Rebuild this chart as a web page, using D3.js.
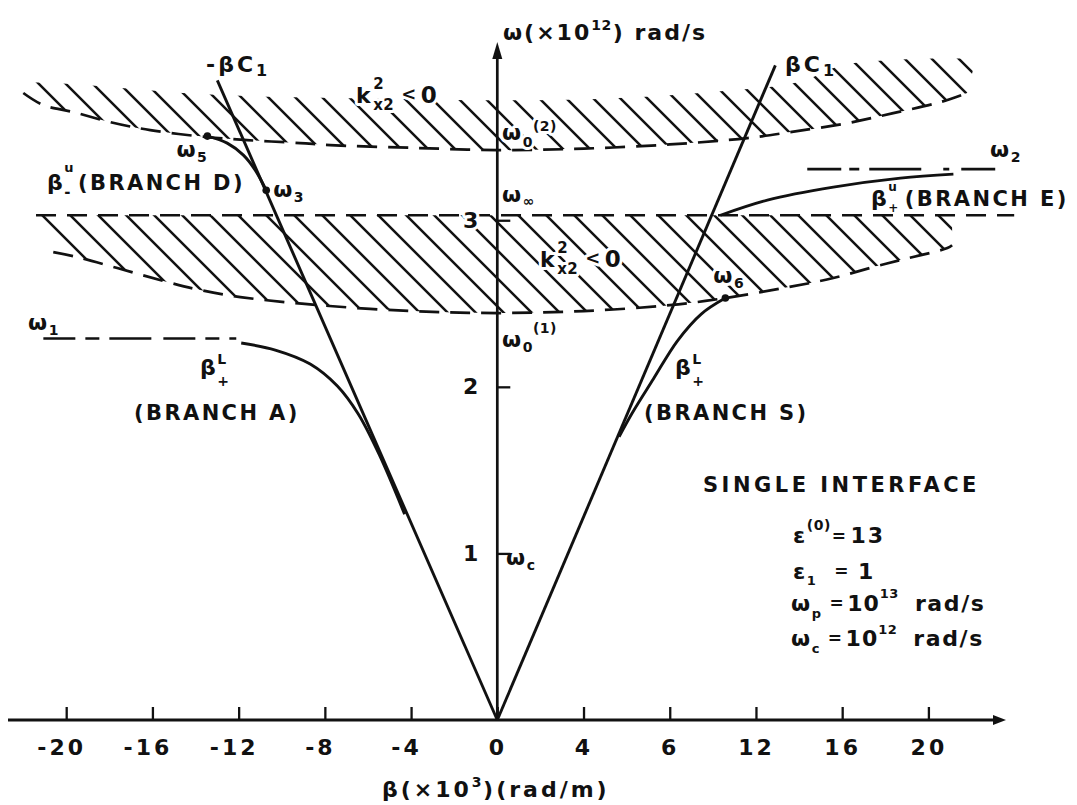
<!DOCTYPE html>
<html>
<head>
<meta charset="utf-8">
<script src="https://cdn.jsdelivr.net/npm/d3@7"></script>
<style>
  html, body { margin: 0; padding: 0; background: #fff; }
  svg { display: block; font-family: "DejaVu Sans", sans-serif; font-weight: bold; }
  .halo { stroke: #fff; stroke-width: 6px; stroke-linejoin: round; paint-order: stroke; }
</style>
</head>
<body>
<svg id="chart" width="1077" height="805"></svg>
<script>
// Units: beta in 10^3 rad/m, omega in 10^12 rad/s

// axis ticks
const xTickValues = [-20, -16, -12, -8, -4, 0, 4, 8, 12, 16, 20];
const xTickLabels = ["-20", "-16", "-12", "-8", "-4", "0", "4", "6", "12", "16", "20"];
const yTickValues = [1, 2, 3];
const yTickLabels = ["1", "2", "3"];

// light lines  omega = ±beta*c1
const lightLeftBeta = [0, -12.99];
const lightLeftOmega = [0, 3.84];
const lightRightBeta = [0, 12.9];
const lightRightOmega = [0, 3.93];

// band edge omega_0^(2) (k_x2^2 < 0 above it)
const upperBoundBeta  = [-21.99, -21.06, -19.67, -17.95, -16.10, -13.45, -11.60, -9.14, -7.75, -4, 0, 4, 8, 11.60, 13.59, 16.24, 18.37, 20.55, 21.80];
const upperBoundOmega = [3.764, 3.691, 3.649, 3.589, 3.541, 3.499, 3.481, 3.463, 3.451, 3.435, 3.421, 3.43, 3.455, 3.493, 3.529, 3.583, 3.643, 3.709, 3.764];
// upper limit of the hatching drawn above omega_0^(2)
const upperHatchTopBeta  = [-22.4, -20, -17, -14, -10, -5, 0, 5, 10, 14, 16, 18, 20, 22.2];
const upperHatchTopOmega = [3.83, 3.82, 3.79, 3.76, 3.74, 3.73, 3.72, 3.73, 3.77, 3.83, 3.93, 3.96, 3.97, 3.97];

// band edge omega_0^(1) (k_x2^2 < 0 between it and omega_inf)
const lowerBoundBeta  = [-20.60, -19.49, -17.63, -15.31, -13.78, -11.92, -8.35, -4, 0, 4, 8, 10.58, 13.27, 15.59, 17.44, 18.70, 20.88, 21.1];
const lowerBoundOmega = [2.809, 2.779, 2.713, 2.629, 2.581, 2.539, 2.491, 2.455, 2.443, 2.455, 2.49, 2.533, 2.593, 2.653, 2.719, 2.761, 2.833, 2.85];
const lowerHatchTipBeta = -21.4;

// omega_inf level and the asymptotes omega_1, omega_2
const omegaInf = 3.03;
const omegaInfBeta = [-21.4, 23.98];
const omega1 = 2.29;
const omega1Beta = [-21.06, -12.11];
const omega2 = 3.307;
const omega2Beta = [14.38, 23.1];

// dispersion branches
const branchABeta  = [-11.88, -10.30, -8.68, -7.42, -6.45, -5.47, -4.3];
const branchAOmega = [2.263, 2.221, 2.137, 2.005, 1.837, 1.591, 1.235];
const branchSBeta  = [10.58, 9.46, 8.35, 7.24, 6.26, 5.65];
const branchSOmega = [2.533, 2.437, 2.275, 2.047, 1.843, 1.700];
const branchDBeta  = [-13.45, -12.53, -11.78, -11.23, -10.72];
const branchDOmega = [3.505, 3.463, 3.391, 3.301, 3.18];
const branchEBeta  = [10.35, 12.53, 15.59, 18.70, 21.16];
const branchEOmega = [3.03, 3.121, 3.199, 3.253, 3.277];

// marked points omega_5, omega_3, omega_6
const pointBeta  = [-13.45, -10.72, 10.58];
const pointOmega = [3.505, 3.18, 2.533];

const INK = "#111";
const svg = d3.select("#chart");

const x = d3.scaleLinear().domain([-22.7, 23.6]).range([8, 1006]);
const y = d3.scaleLinear().domain([0, 4.07]).range([720, 42]);

const zip = (a, b) => a.map((v, i) => [v, b[i]]);
const smooth = d3.line().x(d => x(d[0])).y(d => y(d[1])).curve(d3.curveCatmullRom.alpha(0.5));
const straight = d3.line().x(d => x(d[0])).y(d => y(d[1]));

const defs = svg.append("defs");

// ---- hatched regions where k_x2^2 < 0 ----
const upperEdge = zip(upperBoundBeta, upperBoundOmega);
const upperTop = zip(upperHatchTopBeta, upperHatchTopOmega);
defs.append("clipPath").attr("id", "clipUpper").append("path")
  .attr("d", smooth(upperEdge) + "L" + smooth(upperTop.slice().reverse()).slice(1) + "Z");

const lowerEdge = zip(lowerBoundBeta, lowerBoundOmega);
defs.append("clipPath").attr("id", "clipLower").append("path")
  .attr("d", smooth(lowerEdge) +
    `L${x(lowerBoundBeta[lowerBoundBeta.length - 1])},${y(omegaInf)}` +
    `L${x(lowerHatchTipBeta)},${y(omegaInf)}Z`);

function hatch(clipId, y0, y1, step, phase) {
  const g = svg.append("g").attr("clip-path", `url(#${clipId})`);
  const h = y1 - y0;
  const starts = d3.range(-200 + phase, 1100, step);
  g.selectAll("line").data(starts).join("line")
    .attr("x1", d => d).attr("y1", y0)
    .attr("x2", d => d + h).attr("y2", y1)
    .attr("stroke", INK).attr("stroke-width", 2.5);
}
hatch("clipUpper", 40, 170, 27, 6);
hatch("clipLower", 200, 330, 28, 3);

// dashed band edges
[upperEdge, lowerEdge].forEach(edge => {
  svg.append("path").attr("d", smooth(edge))
    .attr("fill", "none").attr("stroke", INK).attr("stroke-width", 2.7).attr("stroke-dasharray", "20,11");
});

// omega_inf line
svg.append("path").attr("d", straight(omegaInfBeta.map(b => [b, omegaInf])))
  .attr("fill", "none").attr("stroke", INK).attr("stroke-width", 2.7).attr("stroke-dasharray", "20,11");

// asymptotes omega_1 and omega_2
svg.append("path").attr("d", straight(omega1Beta.map(b => [b, omega1])))
  .attr("fill", "none").attr("stroke", INK).attr("stroke-width", 2.7).attr("stroke-dasharray", "32,10,14,10,42,12");
svg.append("path").attr("d", straight(omega2Beta.map(b => [b, omega2])))
  .attr("fill", "none").attr("stroke", INK).attr("stroke-width", 2.7).attr("stroke-dasharray", "34,8,10,10,52,22,6,12,40");

// ---- axes ----
const xAxis = d3.axisBottom(x).tickValues(xTickValues)
  .tickFormat((d, i) => xTickLabels[i]).tickSize(-13).tickPadding(19).tickSizeOuter(0);
const gx = svg.append("g").attr("transform", `translate(0,${y(0)})`).call(xAxis)
  .attr("font-family", "DejaVu Sans, sans-serif").attr("font-size", 22);
gx.select(".domain").remove();
gx.selectAll(".tick line").attr("stroke", INK).attr("stroke-width", 2.3);
gx.selectAll(".tick text").attr("fill", INK).attr("letter-spacing", 3)
  .attr("dx", (d, i) => xTickLabels[i].startsWith("-") ? -5 : 0);

const yAxis = d3.axisLeft(y).tickValues(yTickValues)
  .tickFormat((d, i) => yTickLabels[i]).tickSize(-13).tickPadding(19).tickSizeOuter(0);
const gy = svg.append("g").attr("transform", `translate(${x(0)},0)`).call(yAxis)
  .attr("font-family", "DejaVu Sans, sans-serif").attr("font-size", 22);
gy.select(".domain").remove();
gy.selectAll(".tick line").attr("stroke", INK).attr("stroke-width", 2.3);
gy.selectAll(".tick text").attr("fill", INK).attr("class", "halo");

// axis lines with arrowheads
const xEnd = x.domain()[1], yEnd = y.domain()[1];
svg.append("line").attr("x1", x(x.domain()[0])).attr("x2", x(xEnd) - 6)
  .attr("y1", y(0)).attr("y2", y(0)).attr("stroke", INK).attr("stroke-width", 3);
svg.append("path")
  .attr("d", `M${x(xEnd)},${y(0)}l-13,-5l0,10z`).attr("fill", INK);
svg.append("line").attr("x1", x(0)).attr("x2", x(0))
  .attr("y1", y(0)).attr("y2", y(yEnd) + 8).attr("stroke", INK).attr("stroke-width", 2.7);
svg.append("path")
  .attr("d", `M${x(0)},${y(yEnd)}l-5,17l10,0z`).attr("fill", INK);

// ---- light lines ----
[[lightLeftBeta, lightLeftOmega], [lightRightBeta, lightRightOmega]].forEach(([b, o]) => {
  svg.append("path").attr("d", straight(zip(b, o)))
    .attr("fill", "none").attr("stroke", INK).attr("stroke-width", 2.9);
});

// ---- branches ----
[[branchABeta, branchAOmega], [branchSBeta, branchSOmega],
 [branchDBeta, branchDOmega], [branchEBeta, branchEOmega]].forEach(([b, o]) => {
  svg.append("path").attr("d", smooth(zip(b, o)))
    .attr("fill", "none").attr("stroke", INK).attr("stroke-width", 2.9);
});

svg.selectAll("circle.pt").data(zip(pointBeta, pointOmega)).join("circle")
  .attr("class", "pt").attr("cx", d => x(d[0])).attr("cy", d => y(d[1]))
  .attr("r", 3.8).attr("fill", INK);

// ---- text ----
// One <text> per label. Pieces flow left to right; `off` shifts the baseline
// (sub/superscripts), `stack` puts a piece at the start of the previous one.
function label(x0, y0, pieces, opts = {}) {
  const t = svg.append("text").attr("fill", INK);
  if (opts.halo) t.attr("class", "halo");
  let cx = x0, prevStart = x0;
  pieces.forEach(p => {
    const { s, off = 0, size = 22, ls = 1.5, stack = false, gap = 0 } = p;
    const px = stack ? prevStart : cx + gap;
    const ts = t.append("tspan").attr("x", px).attr("y", y0 + off)
      .attr("font-size", size).attr("letter-spacing", ls).text(s);
    const w = ts.node().getComputedTextLength();
    prevStart = px;
    cx = Math.max(cx, px + w);
  });
  return t;
}
const sub = (s, off = 6, size = 14, more = {}) => Object.assign({ s, off, size, ls: 0.5 }, more);

// axis titles
label(503, 40, [{ s: "ω(×10", ls: 2 }, sub("12", -10), { s: ") rad/s", ls: 2, gap: 1 }]);
label(382, 797, [{ s: "β(×10", ls: 3 }, sub("3", -10), { s: ")(rad/m)", ls: 3, gap: 1 }]);

// light-line labels
label(206, 72, [{ s: "-βC", ls: 3 }, sub("1", 4, 16)]);
label(785, 72, [{ s: "βC", ls: 3 }, sub("1", 4, 16)]);

// k_x2^2 < 0 labels
function kLabel(px, py) {
  label(px, py, [{ s: "k" }, sub("2", -14, 15, { gap: 1 }), sub("x2", 7, 15, { stack: true }),
                 { s: "<", off: -3, size: 18, gap: 7 }, { s: "0", size: 23, gap: 3 }], { halo: true });
}
kLabel(356, 103);
kLabel(540, 267);

// band edges on the omega axis
label(502, 140, [{ s: "ω" }, sub("0", 7), sub("(2)", -9)], { halo: true });
label(502, 202, [{ s: "ω" }, sub("∞", 4)], { halo: true });
label(502, 347, [{ s: "ω" }, sub("0", 5), sub("(1)", -14)], { halo: true });
label(506, 565, [{ s: "ω" }, sub("c", 5)]);

// marked frequencies
const px5 = x(pointBeta[0]), py5 = y(pointOmega[0]);
label(px5 - 31, py5 + 21, [{ s: "ω" }, sub("5", 5)], { halo: true });
const px3 = x(pointBeta[1]), py3 = y(pointOmega[1]);
label(px3 + 7, py3 + 7, [{ s: "ω" }, sub("3", 5)]);
const px6 = x(pointBeta[2]), py6 = y(pointOmega[2]);
label(px6 - 12, py6 - 15, [{ s: "ω" }, sub("6", 5)], { halo: true });
label(28, 330, [{ s: "ω" }, sub("1", 5)]);
label(990, 157, [{ s: "ω" }, sub("2", 5)]);

// branch labels
label(47, 190, [{ s: "β" }, sub("-", 7, 15), sub("u", -18, 13, { stack: true }),
                { s: "(BRANCH D)", size: 21, ls: 2.4, gap: 4 }]);
label(200, 375, [{ s: "β" }, sub("+", 11, 14), sub("L", -11, 14, { stack: true })]);
label(134, 420, [{ s: "(BRANCH A)", size: 21, ls: 2.4 }]);
label(675, 375, [{ s: "β" }, sub("+", 11, 14), sub("L", -11, 14, { stack: true })]);
label(644, 420, [{ s: "(BRANCH S)", size: 21, ls: 2.4 }]);
label(871, 206, [{ s: "β" }, sub("+", 6, 12), sub("u", -15, 12, { stack: true }),
                 { s: "(BRANCH E)", size: 21, ls: 2.4, gap: 6 }]);

// parameter block
label(703, 492, [{ s: "SINGLE INTERFACE", size: 21, ls: 3.5 }]);
label(793, 543, [{ s: "ε" }, sub("(0)", -13), { s: "=", size: 17, off: -1, gap: 1 }, { s: "13", gap: 3, ls: 2 }]);
label(793, 579, [{ s: "ε" }, sub("1", 6, 13), { s: "=", size: 17, off: -2, gap: 18 }, { s: "1", gap: 8 }]);
label(791, 611, [{ s: "ω" }, sub("p", 7, 13), { s: "=", size: 17, off: -2, gap: 8 }, { s: "10", gap: 2, ls: 1 },
                 sub("13", -13, 13), { s: "rad/s", gap: 16, ls: 1.6 }]);
label(791, 646, [{ s: "ω" }, sub("c", 7, 13), { s: "=", size: 17, off: -2, gap: 8 }, { s: "10", gap: 2, ls: 1 },
                 sub("12", -12, 13), { s: "rad/s", gap: 16, ls: 1.6 }]);
</script>
</body>
</html>
